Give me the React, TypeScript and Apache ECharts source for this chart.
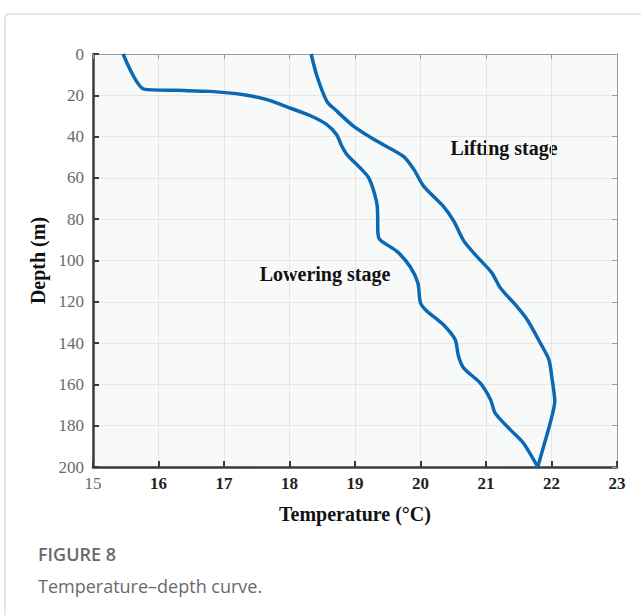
import React, { useEffect, useRef } from "react";
import * as echarts from "echarts";

const xTicks = [15, 16, 17, 18, 19, 20, 21, 22, 23];
const yTicks = [0, 20, 40, 60, 80, 100, 120, 140, 160, 180, 200];

// Lowering stage: [temperature °C, depth m]
const loweringTemp = [15.46, 15.78, 16.28, 16.79, 17.3, 17.66, 17.95, 18.32, 18.57, 18.72, 18.8, 18.88, 19.08, 19.2, 19.28, 19.34, 19.35, 19.37, 19.42, 19.64, 19.84, 19.96, 20.0, 20.1, 20.35, 20.53, 20.58, 20.66, 20.91, 21.07, 21.14, 21.37, 21.57, 21.79];
const loweringDepth = [0, 17, 17.6, 18.1, 19.7, 22.1, 25.5, 29.9, 34.2, 39.1, 44.7, 48.8, 55.2, 59.5, 65.7, 73.8, 86.7, 89.5, 91.0, 95.6, 102.9, 110.9, 120.6, 124.6, 131.1, 138.4, 146.4, 152.1, 159.3, 167.4, 173.9, 181.9, 188.4, 200];

// Lifting stage
const liftingTemp = [18.33, 18.42, 18.57, 18.7, 18.98, 19.34, 19.74, 19.9, 20.05, 20.35, 20.51, 20.66, 20.86, 21.09, 21.22, 21.47, 21.63, 21.83, 21.96, 22.01, 22.05, 21.98, 21.88, 21.79];
const liftingDepth = [0, 10.8, 22.9, 27, 35, 42.3, 49.6, 56, 64.1, 73.8, 81.1, 90.5, 98, 106, 113.3, 122.2, 128.7, 140, 148, 157.7, 168.2, 178.7, 190, 200];

const lowering = loweringTemp.map((t, i) => [t, loweringDepth[i]]);
const lifting = liftingTemp.map((t, i) => [t, liftingDepth[i]]);

const BLUE = "#0b69b4";
const SERIF = "'Liberation Serif', 'Times New Roman', serif";
const SANS = "'Open Sans', 'Noto Sans', sans-serif";

export default function App() {
  const ref = useRef<HTMLDivElement>(null);
  useEffect(() => {
    if (!ref.current) return;
    const chart = echarts.init(ref.current, undefined, { renderer: "svg" });
    const grid = { left: 93, top: 54, width: 524, height: 413 };
    chart.setOption({
      animation: false,
      backgroundColor: "#ffffff",
      grid: { ...grid, show: true, backgroundColor: "#f8f9f9", borderWidth: 0 },
      xAxis: [
        {
          type: "value",
          min: xTicks[0],
          max: xTicks[xTicks.length - 1],
          interval: 1,
          position: "bottom",
          axisLine: { show: true, onZero: false, lineStyle: { color: "#3a3a3a", width: 2.5 } },
          axisTick: { show: true, inside: true, length: 6, lineStyle: { color: "#3a3a3a", width: 2 } },
          axisLabel: {
            margin: 8,
            formatter: (v: number) => (v === xTicks[0] ? `{a|${v}}` : `{b|${v}}`),
            rich: {
              a: { fontFamily: SERIF, fontSize: 17, color: "#6a6a6a" },
              b: { fontFamily: SERIF, fontSize: 17, color: "#222222", fontWeight: "bold" },
            },
          },
          splitLine: { show: true, lineStyle: { color: "#e6e6e6", width: 1 } },
          name: "Temperature (°C)",
          nameLocation: "middle",
          nameGap: 37,
          nameTextStyle: { fontFamily: SERIF, fontSize: 20, fontWeight: "bold", color: "#111111" },
        },
        {
          type: "value",
          min: xTicks[0],
          max: xTicks[xTicks.length - 1],
          interval: 1,
          position: "top",
          axisLine: { show: true, onZero: false, lineStyle: { color: "#9a9a9a", width: 1 } },
          axisTick: { show: true, inside: true, length: 5, lineStyle: { color: "#9a9a9a", width: 1 } },
          axisLabel: { show: false },
          splitLine: { show: false },
        },
      ],
      yAxis: [
        {
          type: "value",
          min: yTicks[0],
          max: yTicks[yTicks.length - 1],
          interval: 20,
          inverse: true,
          position: "left",
          axisLine: { show: true, onZero: false, lineStyle: { color: "#3a3a3a", width: 2.5 } },
          axisTick: { show: true, inside: true, length: 6, lineStyle: { color: "#3a3a3a", width: 2 } },
          axisLabel: { margin: 9, fontFamily: SERIF, fontSize: 17, color: "#6a6a6a" },
          splitLine: { show: true, lineStyle: { color: "#e6e6e6", width: 1 } },
          name: "Depth (m)",
          nameLocation: "middle",
          nameGap: 45,
          nameRotate: 90,
          nameTextStyle: { fontFamily: SERIF, fontSize: 20, fontWeight: "bold", color: "#111111" },
        },
        {
          type: "value",
          min: yTicks[0],
          max: yTicks[yTicks.length - 1],
          interval: 20,
          inverse: true,
          position: "right",
          axisLine: { show: true, onZero: false, lineStyle: { color: "#9a9a9a", width: 1 } },
          axisTick: { show: true, inside: true, length: 5, lineStyle: { color: "#9a9a9a", width: 1 } },
          axisLabel: { show: false },
          splitLine: { show: false },
        },
      ],
      series: [
        {
          name: "Lowering stage",
          type: "line",
          data: lowering,
          showSymbol: false,
          smooth: 0.25,
          lineStyle: { color: BLUE, width: 3.5 },
          z: 5,
        },
        {
          name: "Lifting stage",
          type: "line",
          data: lifting,
          showSymbol: false,
          smooth: 0.25,
          lineStyle: { color: BLUE, width: 3.5 },
          z: 5,
        },
      ],
      graphic: [
        {
          type: "rect",
          shape: { x: 5, y: 14, width: 700, height: 700, r: 4 },
          style: { fill: "none", stroke: "#cccccc", lineWidth: 1 },
          silent: true,
        },
        {
          type: "text",
          x: 504,
          y: 148,
          style: {
            text: "Lifting stage",
            fontFamily: SERIF,
            fontSize: 20,
            fontWeight: "bold",
            fill: "#111111",
            align: "center",
            verticalAlign: "middle",
          },
        },
        {
          type: "text",
          x: 325,
          y: 274,
          style: {
            text: "Lowering stage",
            fontFamily: SERIF,
            fontSize: 20,
            fontWeight: "bold",
            fill: "#111111",
            align: "center",
            verticalAlign: "middle",
          },
        },
        {
          type: "text",
          x: 38,
          y: 554,
          style: {
            text: "FIGURE 8",
            fontFamily: SANS,
            fontSize: 18,
            fontWeight: 600,
            fill: "#6a6a6a",
            verticalAlign: "middle",
          },
        },
        {
          type: "text",
          x: 38,
          y: 586,
          style: {
            text: "Temperature\u2013depth curve.",
            fontFamily: SANS,
            fontSize: 18,
            fill: "#6a6a6a",
            verticalAlign: "middle",
          },
        },
      ],
    });
    return () => chart.dispose();
  }, []);
  return (
    <div
      ref={ref}
      style={{ position: "fixed", left: 0, top: 0, width: 641, height: 615, background: "#fff" }}
    />
  );
}
